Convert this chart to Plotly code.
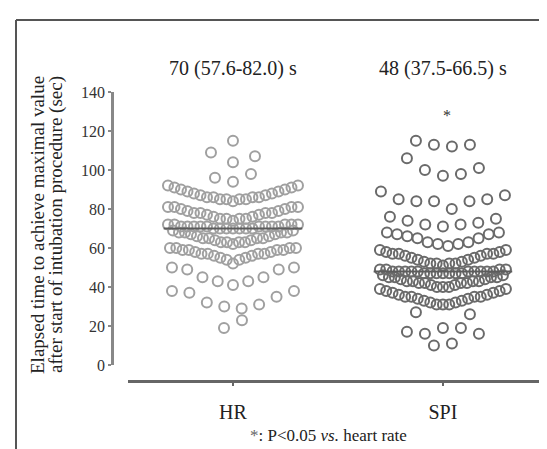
import numpy as np
import plotly.graph_objects as go

# ---------------- data ----------------
categories = ["HR", "SPI"]

# values listed row by row (top to bottom), each row left to right
hr_values = [
    115,
    109, 104, 107,
    96, 94, 98,
    92, 91, 90, 89, 88, 87, 86, 86, 85, 85, 84, 85, 85, 86, 86, 87, 88, 89, 90, 91, 92,
    81, 81, 80, 79, 78, 78, 77, 76, 75, 75, 74, 75, 75, 76, 77, 78, 78, 79, 80, 81, 81,
    72, 72, 71, 71, 71, 71, 71, 70, 70, 70, 70, 70, 70, 70, 71, 71, 71, 71, 72, 72, 72,
    69, 68, 68, 67, 66, 65, 65, 64, 63, 63, 62, 63, 63, 64, 65, 65, 66, 67, 68, 68, 69,
    60, 60, 59, 59, 58, 57, 57, 56, 55, 54, 52, 54, 55, 56, 57, 57, 58, 59, 59, 60, 60,
    50, 49, 45, 43, 41, 43, 45, 49, 50,
    38, 37, 32, 30, 29, 31, 35, 38,
    19, 23,
]
spi_values = [
    115, 113, 112, 113,
    106, 100, 97, 98, 101,
    89, 85, 84, 84, 80, 84, 85, 87,
    76, 74, 72, 71, 72, 73, 75,
    68, 67, 66, 65, 63, 62, 61, 62, 63, 65, 67, 68,
    59, 58, 57, 57, 56, 55, 54, 53, 52, 52, 51, 52, 52, 53, 54, 55, 56, 57, 57, 58, 59,
    49, 49, 48, 48, 48, 48, 48, 47, 47, 47, 47, 47, 47, 47, 48, 48, 48, 48, 48, 49, 49,
    46, 45, 45, 44, 43, 43, 42, 42, 41, 40, 40, 40, 41, 42, 42, 43, 43, 44, 45, 45, 46,
    39, 38, 37, 36, 35, 35, 34, 33, 32, 31, 31, 31, 32, 33, 34, 35, 35, 36, 37, 38, 39,
    27, 26,
    17, 16, 19, 19, 16,
    10, 11,
]
medians = [70, 48]
summary_labels = ["70 (57.6-82.0) s", "48 (37.5-66.5) s"]
y_tick_values = [0, 20, 40, 60, 80, 100, 120, 140]
significance_value = 128

# ---------------- layout of the swarm rows ----------------
hr_row_counts = [1, 3, 3, 21, 21, 21, 21, 21, 9, 8, 2]
hr_row_halfwidth = [0, 22, 18, 65, 65, 65, 60, 63, 61, 61, 9]
spi_row_counts = [4, 5, 8, 7, 12, 21, 21, 21, 21, 2, 5, 2]
spi_row_halfwidth = [27, 36, 62, 53, 56, 63, 63, 60, 63, 27, 36, 9]

W, H = 547, 449
ML, MR, MT, MB = 104, 5, 84, 76
PW, PH = W - ML - MR, H - MT - MB
X_AXIS_START = 120
X_RANGE = [-0.5, 1.51]
px_per_unit = (W - MR - X_AXIS_START) / (X_RANGE[1] - X_RANGE[0])
Y0_PIX = 357


def swarm_x(center, counts, halfwidths):
    xs = []
    for n, hw in zip(counts, halfwidths):
        offs = np.linspace(-hw, hw, n) if n > 1 else np.array([0.0])
        xs.extend(center + offs / px_per_unit)
    return xs


def px_to_paper_x(px):
    return (px - ML) / PW


def px_to_paper_y(py):
    return (H - MB - py) / PH


hr_x = swarm_x(0, hr_row_counts, hr_row_halfwidth)
spi_x = swarm_x(1, spi_row_counts, spi_row_halfwidth)

fig = go.Figure()
fig.add_trace(go.Scatter(
    x=hr_x, y=hr_values, mode="markers", cliponaxis=False,
    marker=dict(symbol="circle-open", size=10, color="#a0a0a0", line=dict(width=2)),
    showlegend=False, hoverinfo="y"))
fig.add_trace(go.Scatter(
    x=spi_x, y=spi_values, mode="markers", cliponaxis=False,
    marker=dict(symbol="circle-open", size=10, color="#6a6a6a", line=dict(width=2)),
    showlegend=False, hoverinfo="y"))

shapes = []
for i, m in enumerate(medians):
    shapes.append(dict(type="line", xref="x", yref="y", x0=i - 0.33, x1=i + 0.33,
                       y0=m, y1=m, line=dict(color="#5c5c5c", width=2), layer="above"))
# outer frame (top and left)
shapes.append(dict(type="line", xref="paper", yref="paper",
                   x0=px_to_paper_x(8), x1=px_to_paper_x(W), y0=px_to_paper_y(12), y1=px_to_paper_y(12),
                   line=dict(color="#555555", width=2)))
shapes.append(dict(type="line", xref="paper", yref="paper",
                   x0=px_to_paper_x(8), x1=px_to_paper_x(8), y0=px_to_paper_y(12), y1=px_to_paper_y(H),
                   line=dict(color="#555555", width=2)))

font_family = "Liberation Serif, Times New Roman, serif"
annotations = []
for i, t in enumerate(summary_labels):
    annotations.append(dict(x=i, y=px_to_paper_y(60), xref="x", yref="paper", text=t,
                            xanchor="center", yanchor="middle",
                            showarrow=False, font=dict(family=font_family, size=20, color="#222222")))
annotations.append(dict(x=1.02, y=significance_value, xref="x", yref="y", text="*",
                        xanchor="center", yanchor="middle",
                        showarrow=False, font=dict(family=font_family, size=16, color="#333333")))
annotations.append(dict(x=px_to_paper_x(30), y=px_to_paper_y(217), xref="paper", yref="paper",
                        text="Elapsed time to achieve maximal value", textangle=-90, showarrow=False,
                        xanchor="center", yanchor="middle",
                        font=dict(family=font_family, size=19, color="#222222")))
annotations.append(dict(x=px_to_paper_x(48), y=px_to_paper_y(217), xref="paper", yref="paper",
                        text="after start of intubation procedure (sec)", textangle=-90, showarrow=False,
                        xanchor="center", yanchor="middle",
                        font=dict(family=font_family, size=19, color="#222222")))
annotations.append(dict(x=px_to_paper_x(320), y=px_to_paper_y(439), xref="paper", yref="paper",
                        text="<span style='color:#666'>*</span>: P&lt;0.05 <i>vs.</i> heart rate",
                        xanchor="center", yanchor="bottom",
                        showarrow=False, font=dict(family=font_family, size=17, color="#222222")))

fig.update_layout(
    width=W, height=H,
    margin=dict(l=ML, r=MR, t=MT, b=MB, pad=0),
    paper_bgcolor="white", plot_bgcolor="white",
    shapes=shapes, annotations=annotations,
    xaxis=dict(
        range=X_RANGE, domain=[(X_AXIS_START - ML) / PW, 1], anchor="free", position=0,
        tickmode="array", tickvals=[0, 1], ticktext=categories,
        showgrid=False, zeroline=False, showline=True, linecolor="#666666", linewidth=3,
        ticks="outside", ticklen=3, tickwidth=2, tickcolor="#666666",
        ticklabelstandoff=9,
        tickfont=dict(family=font_family, size=20, color="#222222"),
    ),
    yaxis=dict(
        range=[0, 140], domain=[px_to_paper_y(Y0_PIX), 1], anchor="free", position=0,
        tickmode="array", tickvals=y_tick_values,
        showgrid=False, zeroline=False, showline=True, linecolor="#888888", linewidth=2.5,
        ticks="outside", ticklen=3, tickwidth=2, tickcolor="#888888",
        tickfont=dict(family=font_family, size=16, color="#333333"),
    ),
)

fig.write_html("out.html")
